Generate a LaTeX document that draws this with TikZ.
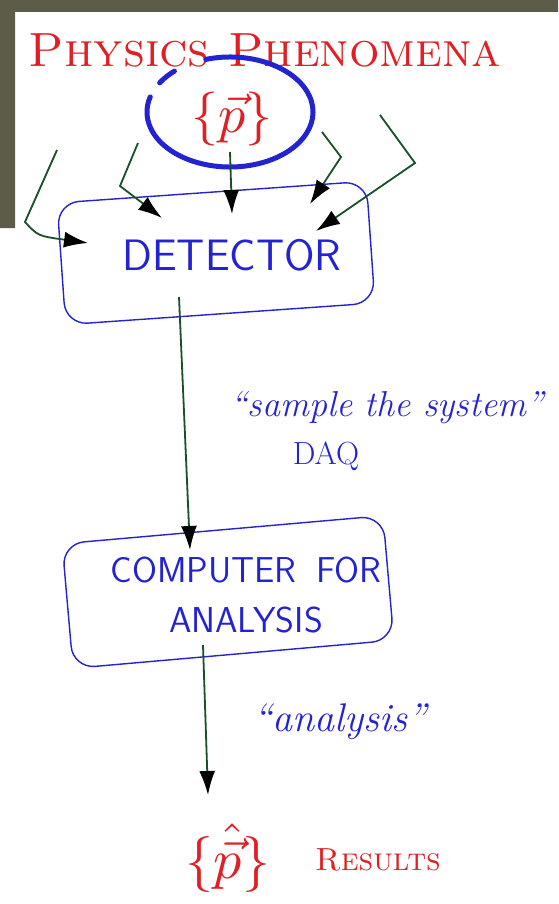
\documentclass[tikz,border=0pt]{standalone}
\usepackage{fontspec}
\usepackage{amsmath}
\usepackage{graphicx}
\usetikzlibrary{arrows.meta}

\definecolor{penred}{RGB}{225,30,35}
\definecolor{penblue}{RGB}{35,35,210}
\definecolor{pengreen}{RGB}{25,80,40}
\definecolor{slate}{RGB}{92,92,72}

\tikzset{
  box/.style={draw=penblue,line width=1.4pt,rounded corners=22pt},
  boxtext/.style={text=penblue},
  flow/.style={draw=pengreen,line width=1.8pt,
    -{Latex[length=24pt,width=16pt,color=black]}},
  ring/.style={draw=penblue,line width=5pt,line cap=round},
  redtext/.style={text=penred},
  note/.style={text=penblue}
}

\begin{document}
\begin{tikzpicture}[x=1pt,y=-1pt]
	\useasboundingbox (0,0) rectangle (558,904);
	\fill[white] (0,0) rectangle (558,904);
	% photo frame
	\fill[slate] (0,0) rectangle (558,12) (0,0) rectangle (15,228);

	% title and the set of momenta
	\node[redtext,inner sep=1pt] (title) at (265,50)
		{\fontsize{48}{52}\selectfont\textsc{Physics Phenomena}};
	\node[redtext,inner sep=0pt] (pset) at (232,119) {\scalebox{5.4}{$\{\vec{p}\}$}};
	\coordinate (ringc) at (230,112);
	\draw[ring] (ringc) ++(253:83 and 55)
		arc[start angle=253,end angle=556,x radius=83,y radius=55];
	\draw[ring] (ringc) ++(212:83 and 55)
		arc[start angle=212,end angle=228,x radius=83,y radius=55];

	% detector
	\node[box,rotate=4,minimum width=310pt,minimum height=122pt] (det) at (216,253) {};
	\node[boxtext,font=\sffamily\fontsize{44}{48}\selectfont] (detlabel) at (232,255) {DETECTOR};

	% incoming particles
	\coordinate (in1) at (57,150);  \coordinate (k1) at (25,222);  \coordinate (t1) at (88,243);
	\coordinate (in2) at (138,143); \coordinate (k2) at (120,186); \coordinate (t2) at (162,218);
	\coordinate (in3) at (230,152); \coordinate (t3) at (232,214);
	\coordinate (in4) at (322,132); \coordinate (k4) at (341,157); \coordinate (t4) at (310,204);
	\coordinate (in5) at (380,115); \coordinate (k5) at (415,163); \coordinate (t5) at (316,231);
	\draw[flow] (in1) -- (k1) .. controls (38,236) .. (t1);
	\draw[flow] (in2) -- (k2) -- (t2);
	\draw[flow] (in3) -- (t3);
	\draw[flow] (in4) -- (k4) -- (t4);
	\draw[flow] (in5) -- (k5) -- (t5);

	% computer
	\node[box,rotate=5,minimum width=322pt,minimum height=125pt] (comp) at (228,592) {};
	\node[boxtext,align=center,font=\sffamily\fontsize{36}{50}\selectfont] (complabel) at (246,595)
		{COMPUTER\hspace{20pt}FOR\\ ANALYSIS};

	\coordinate (daqout) at (179,297); \coordinate (daqin) at (190,550);
	\draw[flow] (daqout) -- (daqin);
	\node[note,font=\itshape\fontsize{36}{40}\selectfont] (sample) at (387,408) {``sample the system''};
	\node[note,font=\fontsize{32}{36}\selectfont] (daq) at (326,456) {DAQ};

	% results
	\coordinate (anaout) at (203,645); \coordinate (anain) at (208,795);
	\draw[flow] (anaout) -- (anain);
	\node[note,font=\itshape\fontsize{40}{44}\selectfont] (ana) at (340,722) {``analysis''};
	\node[redtext,inner sep=0pt] (res) at (228,858) {\scalebox{5.6}{$\{\hat{\vec{p}}\}$}};
	\node[redtext,font=\fontsize{32}{36}\selectfont] (reslabel) at (378,860) {\textsc{Results}};
\end{tikzpicture}
\end{document}
